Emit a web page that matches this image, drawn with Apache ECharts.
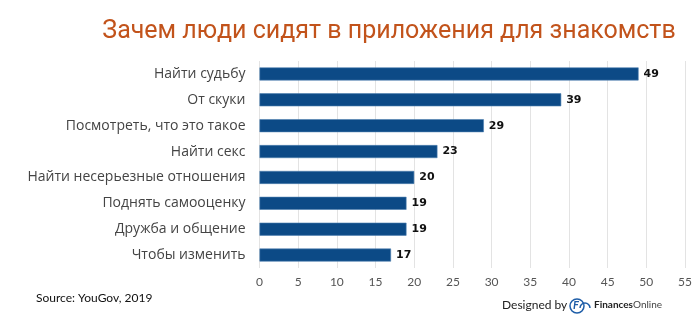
<!DOCTYPE html>
<html><head><meta charset="utf-8">
<script src="https://cdn.jsdelivr.net/npm/echarts@6/dist/echarts.min.js"></script>
<style>html,body{margin:0;padding:0;background:#fff}#c{width:700px;height:336px}</style>
</head><body><div id="c"></div>
<script>
const titleText = 'Зачем люди сидят в приложения для знакомств';
const categories = ['Найти судьбу','От скуки','Посмотреть, что это такое','Найти секс','Найти несерьезные отношения','Поднять самооценку','Дружба и общение','Чтобы изменить'];
const values = [49,39,29,23,20,19,19,17];
const sourceText = 'Source: YouGov, 2019';

const chart = echarts.init(document.getElementById('c'));
chart.setOption({
  backgroundColor:'#ffffff',
  animation:false,
  title:{text:titleText,left:384,textAlign:'center',top:14,
    textStyle:{color:'#c2531b',fontSize:25,fontWeight:'normal',fontFamily:'Roboto'}},
  grid:{left:259.5,right:15,top:61,bottom:68},
  xAxis:{type:'value',min:0,max:55,interval:5,
    axisLine:{show:false},axisTick:{show:false},
    splitLine:{lineStyle:{color:'#e3e3e3'}},
    axisLabel:{color:'#555',fontSize:12,fontFamily:'Lato',margin:8}},
  yAxis:{type:'category',data:categories,inverse:true,
    axisLine:{show:false},axisTick:{show:false},
    axisLabel:{color:'#444',fontSize:14,fontFamily:'Open Sans',margin:14}},
  series:[{type:'bar',data:values,barWidth:13,
    itemStyle:{color:'#0c4a86',borderColor:'#4d7fb0',borderWidth:0.6},
    label:{show:true,position:'right',distance:5,color:'#111',fontSize:11,fontWeight:'bold',fontFamily:'DejaVu Sans'}}],
  graphic:[
    {type:'text',left:36,top:292,style:{text:sourceText,fill:'#111',font:'12px Lato'}},
    {type:'text',left:502,top:299,style:{text:'Designed by',fill:'#222',font:'12px Lato'}},
    {type:'circle',shape:{cx:577,cy:306,r:7},style:{fill:'none',stroke:'#1f5ea8',lineWidth:1.5}},
    {type:'arc',shape:{cx:585,cy:308,r:5,startAngle:Math.PI,endAngle:0},style:{fill:'none',stroke:'#1f5ea8',lineWidth:1.5}},
    {type:'text',left:573,top:300,style:{text:'F',fill:'#1f5ea8',font:'italic bold 11px Lato'}},
    {type:'text',left:594,top:300,style:{text:'{a|Finances}{b|Online}',rich:{a:{fill:'#222',font:'bold 10px Lato'},b:{fill:'#444',font:'10px Lato'}}}}
  ]
});
</script></body></html>
